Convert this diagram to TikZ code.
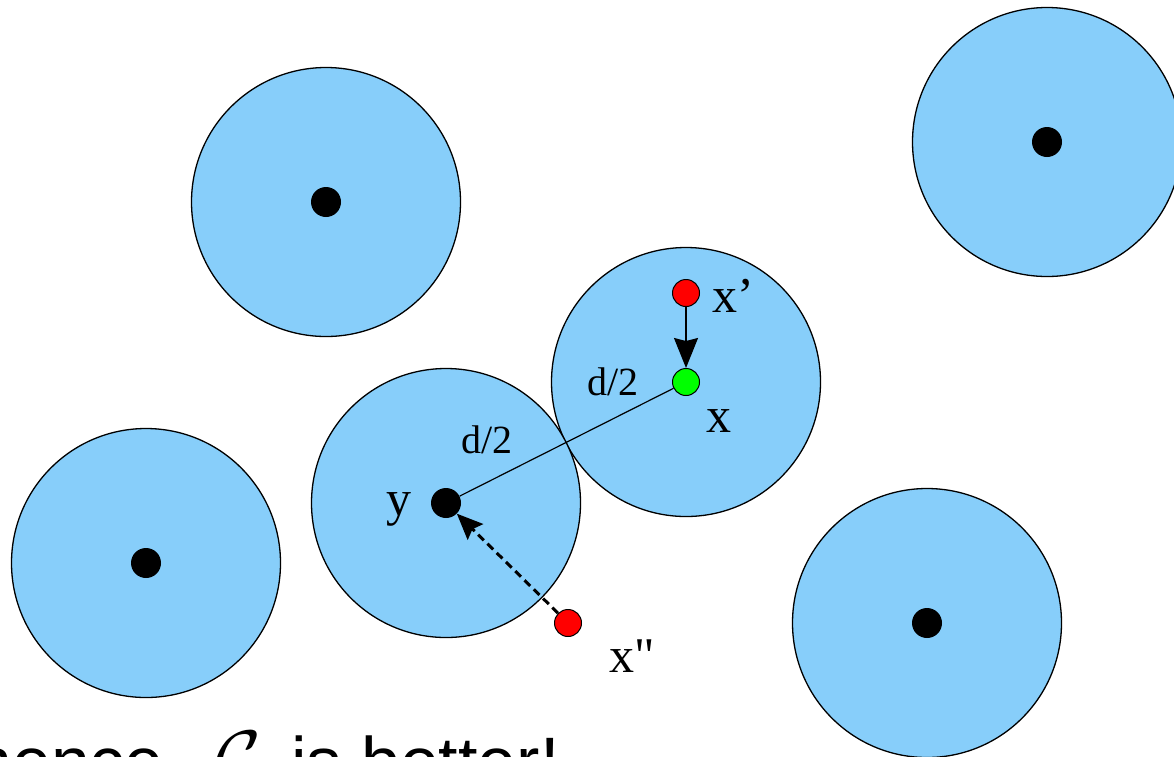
\RequirePackage{fix-cm}
\documentclass[tikz,border=0pt]{standalone}
\usepackage{fontspec}
\setmainfont{Liberation Serif}
\newfontfamily\sansfont{Liberation Sans}
\newfontfamily\quotefont{Liberation Serif}
\usetikzlibrary{arrows.meta}
\definecolor{diskblue}{RGB}{135,206,250}
\definecolor{ptgreen}{RGB}{0,255,0}
\definecolor{ptred}{RGB}{255,0,0}
\tikzset{
  disk/.style={circle, draw=black, line width=1.3pt, fill=diskblue, minimum size=269pt, inner sep=0pt},
  center/.style={circle, fill=black, minimum size=30pt, inner sep=0pt},
  redpt/.style={circle, draw=black, line width=1pt, fill=ptred, minimum size=27pt, inner sep=0pt},
  greenpt/.style={circle, draw=black, line width=1pt, fill=ptgreen, minimum size=27pt, inner sep=0pt},
  lbl/.style={inner sep=0pt, anchor=base west, font=\fontsize{50}{60}\selectfont},
  dlbl/.style={inner sep=0pt, anchor=base west, font=\fontsize{40}{48}\selectfont},
  big/.style={inner sep=0pt, anchor=base west, font=\sansfont\fontsize{70}{84}\selectfont},
}
\begin{document}
\begin{tikzpicture}[x=1pt, y=-1pt]
\useasboundingbox (0,0) rectangle (1174,756);
\clip (0,0) rectangle (1174,756);
% disks
\node[disk] (d1) at (326,202) {};
\node[disk] (d2) at (1047,142) {};
\node[disk] (d3) at (686,382) {};
\node[disk] (d4) at (446,503) {};
\node[disk] (d5) at (146,563) {};
\node[disk] (d6) at (927,623) {};
% points
\node[center] (c1) at (326,202) {};
\node[center] (c2) at (1047,142) {};
\node[center] (y) at (446,503) {};
\node[center] (c5) at (146,563) {};
\node[center] (c6) at (927,623) {};
\node[greenpt] (x) at (686,382) {};
\node[redpt] (xp) at (686,293) {};
\node[redpt] (xpp) at (568,623) {};
% connectors
\draw[line width=1.2pt] (x) -- (y);
\draw[line width=1.5pt, -{Stealth[length=30pt, width=24pt, inset=3pt]}] (xp) -- (x);
\draw[line width=3pt, dash pattern=on 8pt off 5pt, -{Stealth[length=26pt, width=22pt, inset=4pt]}] (xpp) -- (y);
% labels
\node[lbl] (lxp) at (712,312) {x’};
\node[lbl] (lx) at (706,432) {x};
\node[lbl] (ly) at (386,515) {y};
\node[lbl] (lxpp) at (609,672) {x{\quotefont "}};
\node[dlbl] (ld1) at (587,395) {d/2};
\node[dlbl] (ld2) at (461,453) {d/2};
% bottom text
\node[big] (t1) at (-27,786) {hence,};
\node[big, font=\sansfont\fontsize{80}{96}\selectfont] (t2) at (214,786) {$\mathcal{C}$};
\node[big] (t3) at (291,786) {is better!};
\end{tikzpicture}
\end{document}
